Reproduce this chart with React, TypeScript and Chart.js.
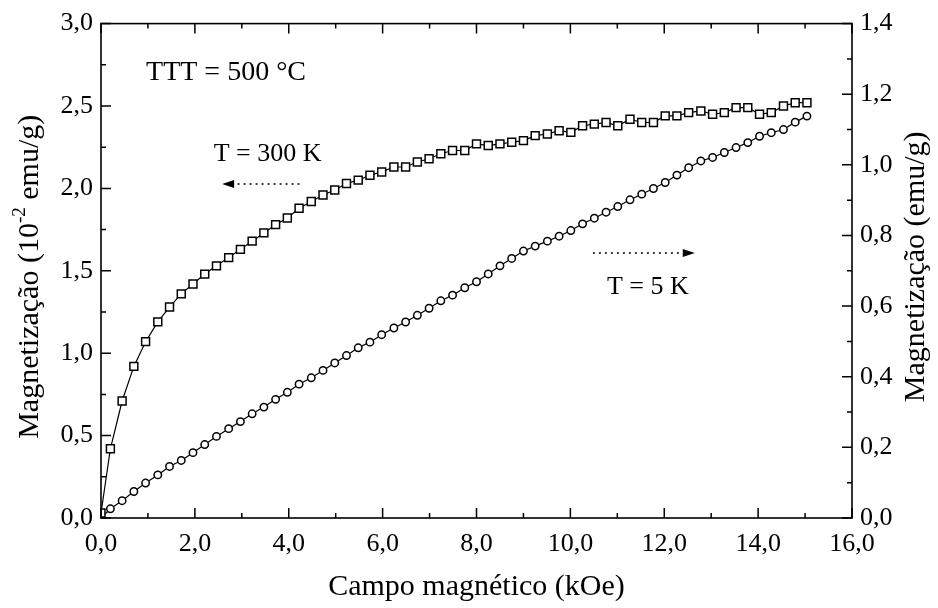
import React, { useEffect, useRef } from 'react';
import { Chart, registerables } from 'chart.js';
Chart.register(...registerables);

// Magnetic field (kOe), shared by both measurements
const fieldKOe = [
  0, 0.20, 0.45, 0.70, 0.95, 1.21, 1.46, 1.71, 1.96, 2.21, 2.46,
  2.72, 2.97, 3.22, 3.47, 3.72, 3.97, 4.22, 4.48, 4.73, 4.98,
  5.23, 5.48, 5.73, 5.98, 6.24, 6.49, 6.74, 6.99, 7.24, 7.49,
  7.75, 8.00, 8.25, 8.50, 8.75, 9.00, 9.25, 9.51, 9.76, 10.01,
  10.26, 10.51, 10.76, 11.01, 11.27, 11.52, 11.77, 12.02, 12.27, 12.52,
  12.78, 13.03, 13.28, 13.53, 13.78, 14.03, 14.28, 14.54, 14.79, 15.04,
];

// T = 300 K, magnetization in 10^-2 emu/g (left axis)
const mag300K = [
  0.03, 0.42, 0.71, 0.92, 1.07, 1.19, 1.28, 1.36, 1.42, 1.48, 1.53,
  1.58, 1.63, 1.68, 1.73, 1.78, 1.82, 1.88, 1.92, 1.96, 1.99,
  2.03, 2.05, 2.08, 2.10, 2.13, 2.13, 2.16, 2.18, 2.21, 2.23,
  2.23, 2.27, 2.26, 2.27, 2.28, 2.29, 2.32, 2.33, 2.35, 2.34,
  2.38, 2.39, 2.40, 2.38, 2.42, 2.40, 2.40, 2.44, 2.44, 2.46,
  2.47, 2.45, 2.46, 2.49, 2.49, 2.45, 2.46, 2.50, 2.52, 2.52,
];

// T = 5 K, magnetization in emu/g (right axis)
const mag5K = [
  0.000, 0.026, 0.049, 0.075, 0.099, 0.122, 0.146, 0.163, 0.185, 0.208, 0.231,
  0.253, 0.273, 0.295, 0.314, 0.336, 0.356, 0.379, 0.397, 0.418, 0.439,
  0.460, 0.482, 0.498, 0.519, 0.538, 0.555, 0.574, 0.594, 0.615, 0.631,
  0.652, 0.669, 0.691, 0.714, 0.735, 0.756, 0.770, 0.784, 0.798, 0.814,
  0.833, 0.849, 0.866, 0.882, 0.901, 0.917, 0.933, 0.950, 0.971, 0.992,
  1.011, 1.021, 1.035, 1.049, 1.063, 1.081, 1.091, 1.100, 1.121, 1.138,
];

const xRange = [0, 16];
const xStep = 2;
const leftRange = [0, 3];
const leftStep = 0.5;
const rightRange = [0, 1.4];
const rightStep = 0.2;

const xTitle = 'Campo magnético (kOe)';
const leftTitleParts = ['Magnetização (10', '-2', ' emu/g)'];
const rightTitle = 'Magnetização (emu/g)';

// annotations (data coordinates: x in kOe, y in left-axis units)
const labelTTT = { text: 'TTT = 500 °C', x: 0.96, y: 2.70 };
const label300 = { text: 'T = 300 K', x: 2.4, y: 2.21 };
const label5 = { text: 'T = 5 K', x: 10.78, y: 1.40 };
const arrow300 = { from: 4.23, to: 2.58, y: 2.026 };
const arrow5 = { from: 10.48, to: 12.65, y: 1.608 };

const FAMILY = "'Liberation Serif', 'Times New Roman', serif";

export default function App() {
  const ref = useRef<HTMLCanvasElement>(null);

  useEffect(() => {
    const canvas = ref.current;
    if (!canvas) return;
    const fmt = (v: any) => Number(v).toFixed(1).replace('.', ',');

    const decor = {
      id: 'decor',
      afterDraw(chart: any) {
        const { ctx, chartArea: a, scales } = chart;
        const sx = scales.x, sy = scales.y, sy1 = scales.y1;
        ctx.save();
        ctx.strokeStyle = '#000';
        ctx.fillStyle = '#000';
        ctx.lineWidth = 1.6;
        ctx.setLineDash([]);
        ctx.strokeRect(a.left, a.top, a.right - a.left, a.bottom - a.top);

        const major = 10, minor = 5;
        const marks = (s: any) => {
          const vals = s.ticks.map((t: any) => t.value);
          const out: [number, number][] = [];
          for (let i = 0; i < vals.length; i++) {
            out.push([s.getPixelForValue(vals[i]), major]);
            if (i < vals.length - 1) out.push([s.getPixelForValue((vals[i] + vals[i + 1]) / 2), minor]);
          }
          return out;
        };
        ctx.lineWidth = 1.5;
        ctx.beginPath();
        for (const [p, l] of marks(sx)) {
          ctx.moveTo(p, a.bottom); ctx.lineTo(p, a.bottom - l);
          ctx.moveTo(p, a.top); ctx.lineTo(p, a.top + l);
        }
        for (const [p, l] of marks(sy)) {
          ctx.moveTo(a.left, p); ctx.lineTo(a.left + l, p);
        }
        for (const [p, l] of marks(sy1)) {
          ctx.moveTo(a.right, p); ctx.lineTo(a.right - l, p);
        }
        ctx.stroke();

        // annotations
        ctx.textBaseline = 'middle';
        ctx.textAlign = 'left';
        ctx.font = `28px ${FAMILY}`;
        ctx.fillText(labelTTT.text, sx.getPixelForValue(labelTTT.x), sy.getPixelForValue(labelTTT.y));
        ctx.font = `26px ${FAMILY}`;
        ctx.fillText(label300.text, sx.getPixelForValue(label300.x), sy.getPixelForValue(label300.y));
        ctx.fillText(label5.text, sx.getPixelForValue(label5.x), sy.getPixelForValue(label5.y));

        const drawArrow = (ar: any) => {
          const x0 = sx.getPixelForValue(ar.from);
          const x1 = sx.getPixelForValue(ar.to);
          const y = sy.getPixelForValue(ar.y);
          const dir = Math.sign(x1 - x0);
          const head = 12;
          ctx.lineWidth = 1.5;
          ctx.setLineDash([2, 4]);
          ctx.beginPath();
          ctx.moveTo(x0, y); ctx.lineTo(x1 - dir * head, y);
          ctx.stroke();
          ctx.setLineDash([]);
          ctx.beginPath();
          ctx.moveTo(x1, y);
          ctx.lineTo(x1 - dir * head, y - 4);
          ctx.lineTo(x1 - dir * head, y + 4);
          ctx.closePath();
          ctx.fill();
        };
        drawArrow(arrow300);
        drawArrow(arrow5);

        // left title with superscript
        const big = `30px ${FAMILY}`;
        const small = `19px ${FAMILY}`;
        ctx.font = big;
        const w1 = ctx.measureText(leftTitleParts[0]).width;
        const w3 = ctx.measureText(leftTitleParts[2]).width;
        ctx.font = small;
        const w2 = ctx.measureText(leftTitleParts[1]).width;
        const total = w1 + w2 + w3;
        ctx.save();
        ctx.translate(30, (a.top + a.bottom) / 2 + 6);
        ctx.rotate(-Math.PI / 2);
        ctx.textAlign = 'left';
        ctx.textBaseline = 'middle';
        let x = -total / 2;
        ctx.font = big;
        ctx.fillText(leftTitleParts[0], x, 0);
        x += w1;
        ctx.font = small;
        ctx.fillText(leftTitleParts[1], x, -10);
        x += w2;
        ctx.font = big;
        ctx.fillText(leftTitleParts[2], x, 0);
        ctx.restore();

        // right title (reads bottom to top)
        ctx.save();
        ctx.translate(916, (a.top + a.bottom) / 2 - 4);
        ctx.rotate(-Math.PI / 2);
        ctx.textAlign = 'center';
        ctx.textBaseline = 'middle';
        ctx.font = big;
        ctx.fillText(rightTitle, 0, 0);
        ctx.restore();

        ctx.restore();
      },
    };

    const tickFont = { family: FAMILY, size: 26 };

    const chart = new Chart(canvas, {
      type: 'scatter',
      data: {
        datasets: [
          {
            label: 'T = 300 K',
            data: fieldKOe.map((x, i) => ({ x, y: mag300K[i] })),
            yAxisID: 'y',
            showLine: true,
            borderColor: '#000',
            borderWidth: 1.2,
            pointStyle: 'rect',
            pointRadius: 5.6,
            pointBorderWidth: 1.5,
            pointBackgroundColor: '#fff',
            pointBorderColor: '#000',
          },
          {
            label: 'T = 5 K',
            data: fieldKOe.map((x, i) => ({ x, y: mag5K[i] })),
            yAxisID: 'y1',
            showLine: true,
            borderColor: '#000',
            borderWidth: 1.2,
            pointStyle: 'circle',
            pointRadius: 3.7,
            pointBorderWidth: 1.5,
            pointBackgroundColor: '#fff',
            pointBorderColor: '#000',
          },
        ],
      },
      options: {
        responsive: false,
        animation: false,
        events: [],
        layout: { padding: { top: 21, left: 0, right: 0, bottom: 0 } },
        plugins: { legend: { display: false }, tooltip: { enabled: false } },
        scales: {
          x: {
            type: 'linear',
            position: 'bottom',
            min: xRange[0],
            max: xRange[1],
            ticks: { stepSize: xStep, callback: fmt, font: tickFont, color: '#000', padding: 11, maxRotation: 0, autoSkip: false },
            grid: { display: false, drawTicks: false },
            border: { display: false },
            title: { display: true, text: xTitle, font: { family: FAMILY, size: 30 }, color: '#000', padding: { top: 0, bottom: 3 } },
            afterFit: (s: any) => { s.height = 90; },
          },
          y: {
            type: 'linear',
            position: 'left',
            min: leftRange[0],
            max: leftRange[1],
            ticks: { stepSize: leftStep, callback: fmt, font: tickFont, color: '#000', padding: 8, autoSkip: false },
            grid: { display: false, drawTicks: false },
            border: { display: false },
            afterFit: (s: any) => { s.width = 101; },
          },
          y1: {
            type: 'linear',
            position: 'right',
            min: rightRange[0],
            max: rightRange[1],
            ticks: { stepSize: rightStep, callback: fmt, font: tickFont, color: '#000', padding: 8, autoSkip: false },
            grid: { display: false, drawTicks: false },
            border: { display: false },
            afterFit: (s: any) => { s.width = 86; },
          },
        },
      },
      plugins: [decor],
    } as any);
    return () => chart.destroy();
  }, []);

  return (
    <div style={{ position: 'fixed', left: 0, top: 0, width: 938, height: 608, background: '#fff' }}>
      <canvas ref={ref} width={938} height={608} style={{ display: 'block' }} />
    </div>
  );
}
